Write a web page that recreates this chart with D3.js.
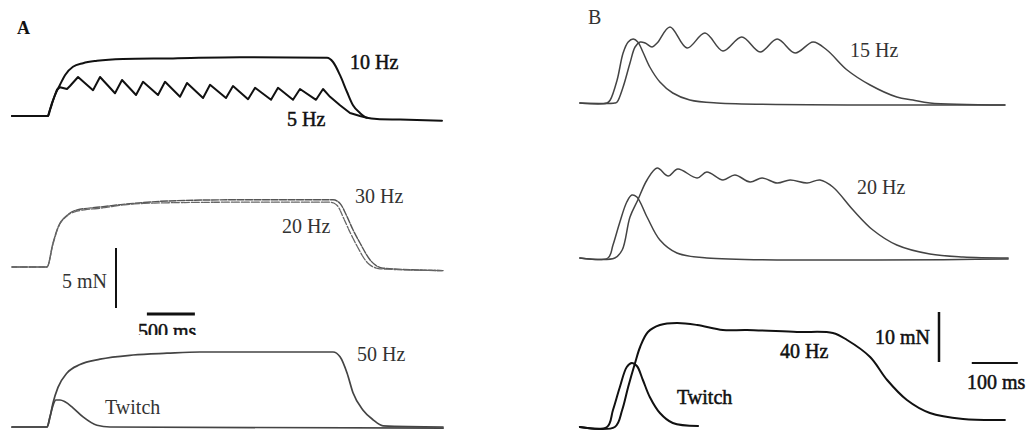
<!DOCTYPE html>
<html>
<head>
<meta charset="utf-8">
<script src="https://cdn.jsdelivr.net/npm/d3@7"></script>
<style>
    body { margin: 0; background: #fff; }
    text { font-family: "Liberation Serif", "Times New Roman", serif; }
</style>
</head>
<body>
<svg></svg>
<script>
// Traces, each point is [time (ms), force (mN)]

// Panel A
let a10Hz = [[-375, 0], [0, 0], [21, 0.5], [73, 1.75], [125, 2.6], [177, 3.4], [260, 4.1], [365, 4.4], [510, 4.6],
    [781, 4.75], [1302, 4.8], [2000, 4.9], [2907, 4.85], [2969, 4.5], [3042, 3.4], [3115, 2], [3177, 0.9],
    [3250, 0.25], [3323, -0.15], [3427, -0.25], [3667, -0.3], [4104, -0.4]]

let a5Hz = [[-375, 0], [0, 0], [42, 1.1], [94, 2.2], [125, 2.4], [198, 2.25], [229, 2.5], [313, 3.25],
    [469, 2.15], [542, 3.25], [698, 1.9], [771, 3.0], [917, 1.75], [990, 2.85], [1146, 1.75], [1219, 2.85],
    [1375, 1.6], [1448, 2.75], [1615, 1.5], [1688, 2.6], [1854, 1.5], [1927, 2.5], [2084, 1.4], [2157, 2.35],
    [2323, 1.35], [2396, 2.35], [2552, 1.35], [2625, 2.25], [2792, 1.35], [2865, 2.25], [2938, 1.6],
    [3042, 0.9], [3146, 0.25], [3250, 0], [3323, -0.15]]

let a30Hz = [[-375, 0], [-10, 0], [52, 2], [104, 3.3], [198, 4.3], [302, 4.75], [542, 5], [886, 5.3], [1240, 5.5],
    [1927, 5.6], [2969, 5.6], [3042, 5.3], [3115, 4.2], [3177, 3.1], [3250, 2], [3354, 0.6], [3490, -0.1], [4115, -0.3]]

let a20Hz = [[-375, 0], [-10, 0], [52, 1.9], [104, 3.25], [198, 4.25], [302, 4.65], [542, 4.9], [886, 5.25],
    [1240, 5.35], [1927, 5.4], [2938, 5.4], [3010, 5.15], [3083, 4], [3146, 2.9], [3219, 1.75], [3323, 0.4],
    [3458, -0.15], [4115, -0.3]]

let a50Hz = [[-375, 0], [-10, 0], [21, 0.85], [52, 2], [104, 3.3], [198, 4.5], [333, 5.2], [542, 5.65], [886, 6],
    [1240, 6.15], [1583, 6.25], [2969, 6.25], [3042, 5.85], [3115, 4.5], [3177, 2.85], [3282, 1.4], [3386, 0.6],
    [3490, 0.1], [4115, 0]]

let aTwitch = [[-375, 0], [-10, 0], [21, 0.85], [52, 1.8], [83, 2.25], [125, 2.25], [177, 2.1], [260, 1.6],
    [365, 0.85], [510, 0.15], [646, 0], [4115, -0.1]]

// Panel B
let b15Twitch = [[-59, 0], [0, 0], [7, 0.6], [22, 4.6], [35, 10], [46, 12.2], [57, 12.8], [67, 12.2], [78, 10.2],
    [93, 7.2], [115, 4.2], [143, 2], [180, 0.6], [239, 0], [865, -0.4]]

let b15Hz = [[-59, 0], [17, 0], [22, 0.2], [35, 3.2], [50, 8], [61, 11.2], [72, 12.2], [83, 12], [98, 11.2],
    [109, 12], [137, 15.2], [174, 11], [213, 14], [252, 10.4], [293, 13.2], [333, 10.2], [370, 12.8],
    [409, 10], [448, 12.2], [478, 10.6], [522, 6.6], [572, 3.6], [630, 1.2], [665, 0.6], [702, 0], [865, -0.4]]

let b20Twitch = [[-59, 0], [2, 0], [13, 2.6], [28, 7.2], [43, 11.2], [54, 12.6], [65, 12.2], [87, 8.2], [115, 3.6],
    [152, 1], [217, 0], [872, -0.2]]

let b20Hz = [[-59, 0], [17, 0], [33, 1.6], [50, 8.2], [67, 11.6], [87, 15.6], [109, 18], [133, 16.4], [154, 17.8],
    [196, 16], [217, 17.2], [252, 15.6], [278, 16.6], [311, 15.2], [337, 16], [370, 15], [398, 15.6], [435, 15],
    [463, 15.6], [491, 14.2], [535, 9.6], [578, 5.6], [630, 2.6], [702, 0.8], [774, 0.2], [872, 0]]

let b40Twitch = [[-59, -0.2], [0, -0.2], [13, 3.2], [28, 7.8], [43, 11.8], [54, 12.6], [65, 12], [78, 9.2],
    [93, 5.8], [115, 2.6], [143, 0.6], [198, 0]]

let b40Hz = [[-59, -0.2], [17, -0.2], [33, 3.2], [46, 7.8], [61, 12.6], [72, 15.8], [89, 18.8], [115, 20.2], [152, 20.6],
    [196, 20.2], [252, 19.2], [304, 19.2], [413, 18.8], [491, 18.6], [522, 17.2], [572, 13.8], [609, 9.2],
    [652, 5.2], [702, 2.6], [774, 1.4], [865, 1.2]]

// Scale bars
let barA = { force: 5, time: 500 }
let barB = { force: 10, time: 100 }

let width = 1031
let height = 435

let svg = d3.select('svg')

// Draw canvas

let drawCanvas = () => {
    svg.attr('width', width)
    svg.attr('height', height)
}

// Scales: one time scale per panel, one force scale per row

let xA = d3.scaleLinear().domain([0, 4000]).range([48, 432])
let rowA = (base) => d3.scaleLinear().domain([0, 5]).range([base, base - 60])
let xB = d3.scaleLinear().domain([0, 800]).range([607, 975])
let rowB = (base) => d3.scaleLinear().domain([0, 10]).range([base, base - 50])

let yA1 = rowA(116)
let yA2 = rowA(267)
let yA3 = rowA(427)
let yB1 = rowB(103)
let yB2 = rowB(258)
let yB3 = rowB(426)

// Draw one trace

let drawTrace = (data, x, y, color, w, curve, dash) => {
    let line = d3.line()
                .x((d) => x(d[0]))
                .y((d) => y(d[1]))
                .curve(curve)
    svg.append('path')
        .datum(data)
        .attr('d', line)
        .attr('fill', 'none')
        .attr('stroke', color)
        .attr('stroke-width', w)
        .attr('stroke-linejoin', 'round')
        .attr('stroke-linecap', 'round')
        .attr('stroke-dasharray', dash || null)
}

let smooth = d3.curveCatmullRom.alpha(0.5)

let drawTraces = () => {
    drawTrace(a10Hz, xA, yA1, '#111', 2, d3.curveMonotoneX)
    drawTrace(a5Hz, xA, yA1, '#111', 2, d3.curveLinear)
    drawTrace(a30Hz, xA, yA2, '#555', 1.4, d3.curveMonotoneX, '7,1.5')
    drawTrace(a20Hz, xA, yA2, '#666', 1.3, d3.curveMonotoneX, '5,2,2,1')
    drawTrace(a50Hz, xA, yA3, '#444', 1.7, d3.curveMonotoneX)
    drawTrace(aTwitch, xA, yA3, '#444', 1.7, d3.curveMonotoneX)

    drawTrace(b15Twitch, xB, yB1, '#444', 1.5, smooth)
    drawTrace(b15Hz, xB, yB1, '#444', 1.5, smooth)
    drawTrace(b20Twitch, xB, yB2, '#444', 1.5, smooth)
    drawTrace(b20Hz, xB, yB2, '#444', 1.5, smooth)
    drawTrace(b40Twitch, xB, yB3, '#111', 2, smooth)
    drawTrace(b40Hz, xB, yB3, '#111', 2, smooth)
}

// Scale bars

let drawBars = () => {
    let fA = d3.scaleLinear().domain([0, 5]).range([308, 248])
    svg.append('line')
        .attr('x1', 116).attr('x2', 116)
        .attr('y1', fA(0)).attr('y2', fA(barA.force))
        .attr('stroke', '#111').attr('stroke-width', 2)
    svg.append('line')
        .attr('x1', xA(1030)).attr('x2', xA(1030 + barA.time))
        .attr('y1', 314).attr('y2', 314)
        .attr('stroke', '#111').attr('stroke-width', 3)

    let fB = d3.scaleLinear().domain([0, 10]).range([362, 312])
    svg.append('line')
        .attr('x1', 939).attr('x2', 939)
        .attr('y1', fB(0)).attr('y2', fB(barB.force))
        .attr('stroke', '#111').attr('stroke-width', 2.5)
    svg.append('line')
        .attr('x1', xB(793)).attr('x2', xB(793 + barB.time))
        .attr('y1', 363).attr('y2', 363)
        .attr('stroke', '#111').attr('stroke-width', 2)
}

// Labels

let label = (txt, x, y, opts) => {
    opts = opts || {}
    let t = svg.append('text')
        .attr('x', x)
        .attr('y', y)
        .attr('font-size', opts.size || 20)
        .attr('font-weight', opts.weight || 'normal')
        .attr('fill', opts.color || '#333')
        .text(txt)
    if (opts.dark) {
        t.attr('stroke', opts.color || '#111').attr('stroke-width', 0.5)
    }
    if (opts.clip) t.attr('clip-path', opts.clip)
    return t
}

let drawLabels = () => {
    svg.append('clipPath')
        .attr('id', 'cut')
        .append('rect')
        .attr('x', 0).attr('y', 0).attr('width', 460).attr('height', 335)

    label('A', 17, 34, { size: 18, weight: 'bold', color: '#111' })
    label('10 Hz', 350, 69, { color: '#111', dark: true })
    label('5 Hz', 287, 126, { color: '#111', dark: true })
    label('30 Hz', 355, 203)
    label('20 Hz', 282, 233)
    label('5 mN', 62, 288)
    label('500 ms', 138, 338, { color: '#111', dark: true, clip: 'url(#cut)' })
    label('50 Hz', 357, 361)
    label('Twitch', 105, 414)

    label('B', 588, 24, { color: '#333' })
    label('15 Hz', 850, 57)
    label('20 Hz', 857, 194)
    label('10 mN', 875, 344, { color: '#111', dark: true })
    label('40 Hz', 780, 358, { color: '#111', dark: true })
    label('Twitch', 677, 404, { color: '#111', dark: true })
    label('100 ms', 967, 389, { color: '#111', dark: true })
}

drawCanvas()
drawTraces()
drawBars()
drawLabels()
</script>
</body>
</html>
